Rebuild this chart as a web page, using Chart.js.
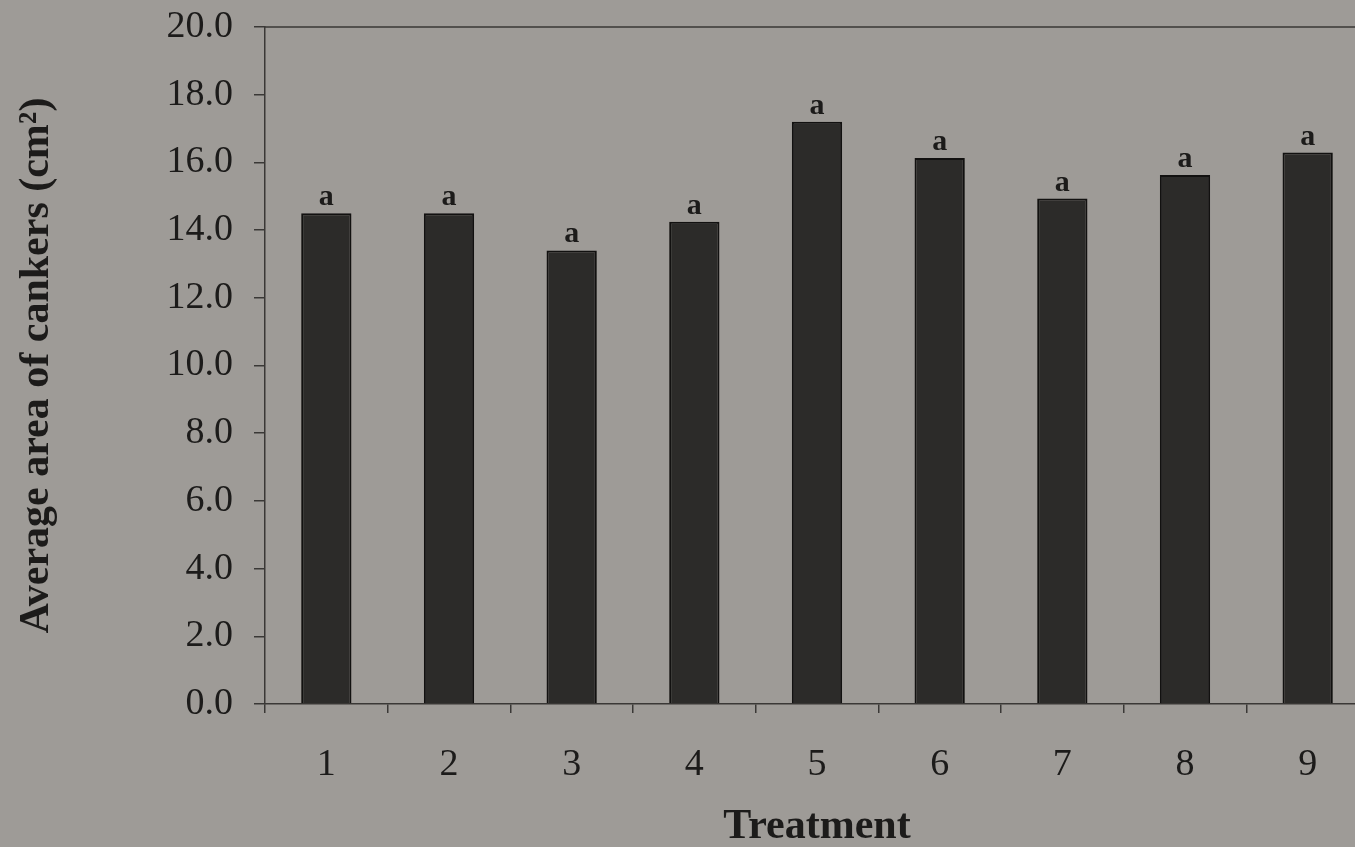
<!DOCTYPE html>
<html>
<head>
<meta charset="utf-8">
<script src="https://cdn.jsdelivr.net/npm/chart.js@4.4.0/dist/chart.umd.min.js"></script>
<style>
  html, body { margin: 0; padding: 0; background: #9e9b97; overflow: hidden; }
  #wrap { width: 1372px; height: 847px; }
</style>
</head>
<body>
<div id="wrap"><canvas id="c" width="1372" height="847"></canvas></div>
<script>
// Treatments and mean canker area (cm²)
const treatments = ['1', '2', '3', '4', '5', '6', '7', '8', '9'];
const cankerArea = [14.5, 14.5, 13.4, 14.25, 17.2, 16.13, 14.93, 15.63, 16.29];
// Significance letters above each bar
const letters = ['a', 'a', 'a', 'a', 'a', 'a', 'a', 'a', 'a'];

const INK = '#1c1b1a';
const SERIF = '"Liberation Serif", "Times New Roman", serif';

// Letters drawn above the bars
const letterPlugin = {
  id: 'letters',
  afterDatasetsDraw(chart) {
    const ctx = chart.ctx;
    const meta = chart.getDatasetMeta(0);
    ctx.save();
    ctx.fillStyle = INK;
    ctx.font = 'bold 30px ' + SERIF;
    ctx.textAlign = 'center';
    ctx.textBaseline = 'alphabetic';
    meta.data.forEach((bar, i) => {
      ctx.fillText(letters[i], bar.x, bar.y - 8);
    });
    ctx.restore();
  }
};

// Frame line along the top and right of the plot area
const framePlugin = {
  id: 'frame',
  afterDraw(chart) {
    const a = chart.chartArea;
    const ctx = chart.ctx;
    ctx.save();
    ctx.strokeStyle = '#3a3836';
    ctx.lineWidth = 1.5;
    ctx.beginPath();
    ctx.moveTo(a.left, a.top);
    ctx.lineTo(a.right, a.top);
    ctx.lineTo(a.right, a.bottom);
    ctx.stroke();
    ctx.restore();
  }
};

new Chart(document.getElementById('c'), {
  type: 'bar',
  data: {
    labels: treatments,
    datasets: [{
      data: cankerArea,
      backgroundColor: '#2c2b29',
      borderColor: '#121110',
      borderWidth: 2,
      barPercentage: 0.41,
      categoryPercentage: 1.0
    }]
  },
  options: {
    responsive: false,
    animation: false,
    layout: { padding: { left: 0, right: 3, top: 27, bottom: 0 } },
    plugins: {
      legend: { display: false },
      tooltip: { enabled: false }
    },
    scales: {
      x: {
        afterFit(scale) { scale.height = 143; scale.paddingLeft = 0; scale.paddingRight = 0; },
        grid: {
          offset: true,
          drawOnChartArea: false,
          drawTicks: true,
          tickLength: 9,
          color: '#3a3836',
          lineWidth: 1.5
        },
        border: { display: true, color: '#3a3836', width: 1.5 },
        ticks: {
          color: INK,
          padding: 29,
          font: { family: SERIF, size: 38 }
        },
        title: {
          display: true,
          text: 'Treatment',
          color: INK,
          font: { family: SERIF, size: 42, weight: 'bold', lineHeight: 1 },
          padding: { top: 0, bottom: -1 }
        }
      },
      y: {
        min: 0,
        max: 20,
        afterFit(scale) { scale.width = 265; scale.paddingTop = 0; scale.paddingBottom = 0; },
        grid: {
          drawOnChartArea: false,
          drawTicks: true,
          tickLength: 11,
          color: '#3a3836',
          lineWidth: 1.5
        },
        border: { display: true, color: '#3a3836', width: 1.5 },
        ticks: {
          stepSize: 2,
          color: INK,
          padding: 21,
          font: { family: SERIF, size: 38 },
          callback: (v) => Number(v).toFixed(1)
        },
        title: {
          display: true,
          text: 'Average area of cankers (cm²)',
          color: INK,
          font: { family: SERIF, size: 42, weight: 'bold', lineHeight: 1 },
          padding: { top: 16, bottom: 0 }
        }
      }
    }
  },
  plugins: [letterPlugin, framePlugin]
});
</script>
</body>
</html>
